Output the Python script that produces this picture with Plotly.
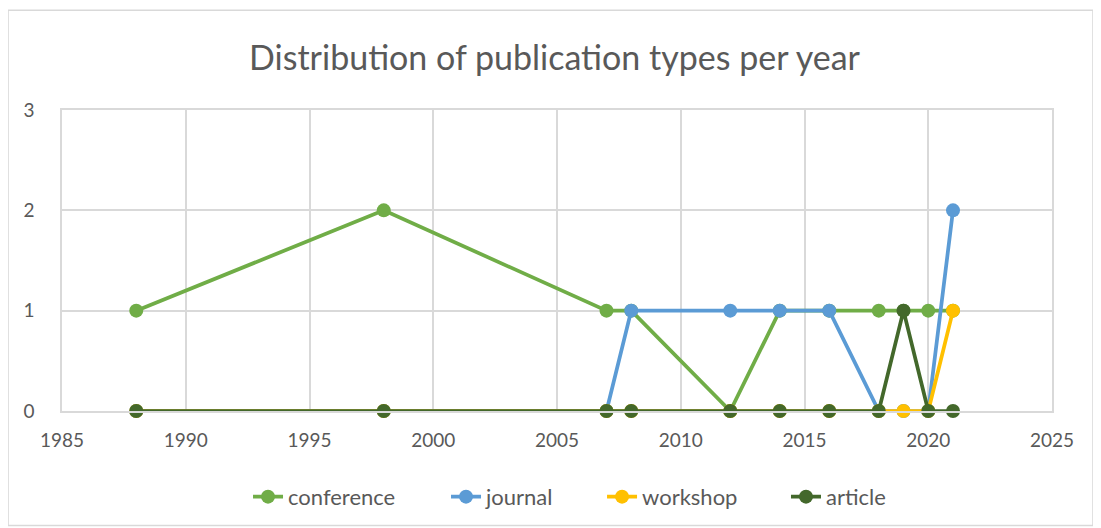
import plotly.graph_objects as go

years = [1988, 1998, 2007, 2008, 2012, 2014, 2016, 2018, 2019, 2020, 2021]
conference = [1, 2, 1, 1, 0, 1, 1, 1, 1, 1, 1]
journal = [0, 0, 0, 1, 1, 1, 1, 0, 0, 0, 2]
workshop = [0, 0, 0, 0, 0, 0, 0, 0, 0, 0, 1]
article = [0, 0, 0, 0, 0, 0, 0, 0, 1, 0, 0]

series = [
    ("conference", conference, "#70AD47"),
    ("journal", journal, "#5B9BD5"),
    ("workshop", workshop, "#FFC000"),
    ("article", article, "#43682B"),
]
legend_x = [0.1879, 0.3879, 0.5455, 0.7313]

FONT = "Lato, 'Open Sans', sans-serif"
TXT = "#595959"
GRID = "#D9D9D9"

fig = go.Figure()
legend_ids = ["legend", "legend2", "legend3", "legend4"]
for (name, vals, col), lid in zip(series, legend_ids):
    fig.add_trace(go.Scatter(
        x=years, y=vals, name=name, mode="lines+markers",
        line=dict(color=col, width=3.75),
        marker=dict(color=col, size=14),
        cliponaxis=False, legend=lid,
    ))

legends = {}
for lid, lx in zip(legend_ids, legend_x):
    legends[lid] = dict(orientation="h", x=lx, xanchor="left", y=-0.281,
                        yanchor="middle", font=dict(size=22, color=TXT),
                        bgcolor="rgba(0,0,0,0)", itemwidth=30)

fig.update_layout(
    width=1093, height=520,
    margin=dict(l=54, r=49, t=102, b=116),
    paper_bgcolor="white", plot_bgcolor="white",
    font=dict(family=FONT, color=TXT, size=19),
    title=dict(text="Distribution of publication types per year",
               x=0.5, xanchor="center", y=0.904, yanchor="middle",
               font=dict(size=34, color=TXT, family=FONT)),
    xaxis=dict(range=[1985, 2025], dtick=5, tick0=1985, showgrid=True,
               gridcolor=GRID, gridwidth=1.5, zeroline=False,
               showline=True, mirror=True, linecolor=GRID, linewidth=1.5,
               ticks="", ticklabelstandoff=11,
               tickfont=dict(size=19, color=TXT)),
    yaxis=dict(range=[0, 3], dtick=1, showgrid=True, gridcolor=GRID,
               gridwidth=1.5, zeroline=True, zerolinecolor="#C8C8C8",
               zerolinewidth=1.5, showline=True, mirror=True, linecolor=GRID,
               linewidth=1.5, ticks="",
               ticklabelstandoff=22, tickfont=dict(size=19, color=TXT)),
    showlegend=True,
    **legends,
)

# outer chart border
fig.add_shape(type="rect", xref="paper", yref="paper",
              x0=-0.0545, x1=1.0414, y0=-0.38, y1=1.331,
              line=dict(color=GRID, width=1.5), layer="below")

fig.write_html("out.html")
